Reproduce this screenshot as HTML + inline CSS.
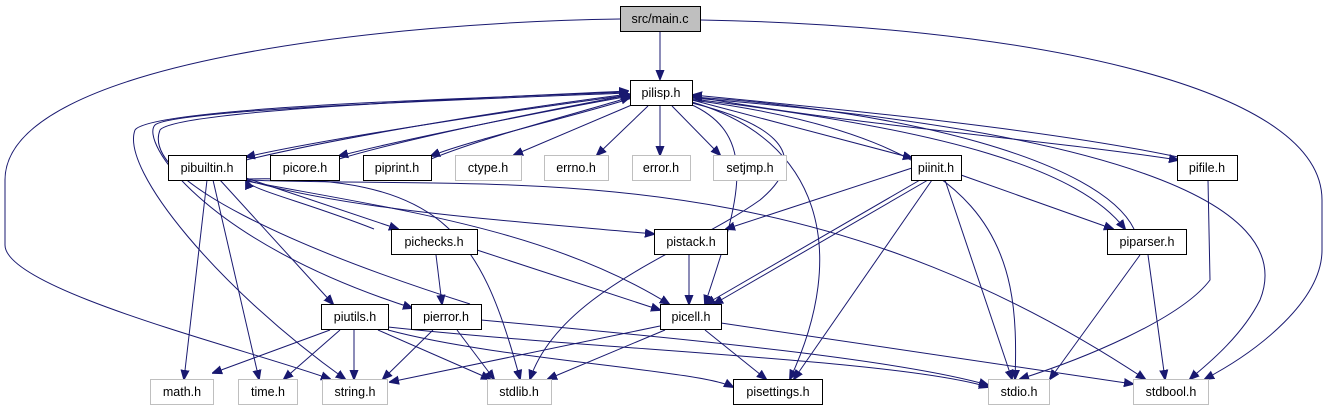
<!DOCTYPE html>
<html><head><meta charset="utf-8"><style>
html,body{margin:0;padding:0;background:#fff;}
svg{display:block;}
text{font-family:"Liberation Sans",Arial,sans-serif;font-size:12.5px;fill:#000;}
.n{fill:#fff;stroke:#000;stroke-width:1;}
.g{fill:#fff;stroke:#bfbfbf;stroke-width:1;}
.e{fill:none;stroke:#191970;stroke-width:1;marker-end:url(#a);}
</style></head><body>
<svg width="1329" height="411" viewBox="0 0 1329 411" xmlns="http://www.w3.org/2000/svg">
<defs><marker id="a" viewBox="0 0 10 10" refX="9" refY="5" markerWidth="10" markerHeight="10" markerUnits="userSpaceOnUse" orient="auto"><path d="M0,1 L10,5 L0,9 z" fill="#191970" stroke="#191970"/></marker></defs>

<path class="e" d="M660,32 L660,79"/>
<path class="e" d="M620,19 C400,22 5,60 5,180 L5,245 C5,290 250,350 330,379"/>
<path class="e" d="M701,20 C1000,25 1322,80 1322,200 L1322,250 C1322,300 1260,350 1205,379"/>

<path class="e" d="M630,95 C500,112 320,140 246,157"/>
<path class="e" d="M246,160 C350,135 520,108 629,94"/>
<path class="e" d="M630,96 C540,112 400,140 339,156"/>
<path class="e" d="M339,159 C420,135 560,108 629,95"/>
<path class="e" d="M632,98 C580,115 470,140 431,156"/>
<path class="e" d="M431,159 C490,135 590,110 630,97"/>
<path class="e" d="M634,104 L514,155"/>
<path class="e" d="M648,106 L597,155"/>
<path class="e" d="M660,106 L660,155"/>
<path class="e" d="M672,106 L720,155"/>
<path class="e" d="M692,100 L912,158"/>
<path class="e" d="M692,96 C850,125 1050,140 1178,160"/>
<path class="e" d="M1178,157 C1050,130 850,110 693,95"/>
<path class="e" d="M692,99 C950,130 1080,170 1125,229"/>
<path class="e" d="M1134,229 C1100,160 900,110 693,97"/>
<path class="e" d="M628,93 C450,100 170,110 155,125 C140,140 200,240 412,308"/>
<path class="e" d="M470,304 C300,250 140,180 160,130 C175,110 480,98 628,91"/>
<path class="e" d="M628,92 C450,99 150,108 135,130 C120,170 220,290 345,379"/>
<path class="e" d="M692,103 C760,120 820,150 760,200 C690,250 560,290 530,379"/>
<path class="e" d="M690,104 C760,135 740,200 705,304"/>
<path class="e" d="M692,102 C820,140 850,250 790,379"/>
<path class="e" d="M692,100 C1000,140 1020,250 1015,379"/>
<path class="e" d="M692,98 C1100,130 1300,200 1260,300 C1240,340 1200,370 1190,379"/>

<path class="e" d="M207,180 L184,379"/>
<path class="e" d="M213,180 L259,379"/>
<path class="e" d="M220,180 L333,304"/>
<path class="e" d="M246,178 L398,229"/>
<path class="e" d="M246,180 C350,210 500,220 654,234"/>
<path class="e" d="M246,181 C400,210 550,230 669,304"/>
<path class="e" d="M246,179 C440,175 480,230 520,379"/>
<path class="e" d="M246,180 C500,190 800,150 1145,379"/>
<path class="e" d="M374,229 C300,200 250,190 246,180"/>

<path class="e" d="M436,255 L442,304"/>
<path class="e" d="M477,250 L660,310"/>
<path class="e" d="M689,255 L689,304"/>

<path class="e" d="M912,168 L726,229"/>
<path class="e" d="M920,180 L706,304"/>
<path class="e" d="M928,180 L714,304"/>
<path class="e" d="M932,180 L794,379"/>
<path class="e" d="M945,180 L1012,379"/>
<path class="e" d="M961,175 L1113,229"/>
<path class="e" d="M1208,180 L1210,280 C1180,320 1080,360 1020,379"/>
<path class="e" d="M1140,255 L1050,379"/>
<path class="e" d="M1148,255 L1165,379"/>

<path class="e" d="M330,330 L213,373"/>
<path class="e" d="M340,330 L284,379"/>
<path class="e" d="M354,330 L354,379"/>
<path class="e" d="M378,330 L490,379"/>
<path class="e" d="M388,330 C500,360 700,370 733,387"/>
<path class="e" d="M388,327 C600,350 900,360 988,387"/>
<path class="e" d="M433,330 L383,379"/>
<path class="e" d="M457,330 L494,379"/>
<path class="e" d="M481,320 C700,340 900,360 988,385"/>
<path class="e" d="M660,326 L390,382"/>
<path class="e" d="M665,330 L548,379"/>
<path class="e" d="M705,330 L766,379"/>
<path class="e" d="M721,323 L1133,384"/>

<rect x="620.5" y="6.5" width="80" height="25" fill="#bfbfbf" stroke="#000"/><text x="660" y="23" text-anchor="middle">src/main.c</text>
<rect class="n" x="630.5" y="80.5" width="62" height="25"/><text x="661" y="97" text-anchor="middle">pilisp.h</text>
<rect class="n" x="168.5" y="155.5" width="78" height="25"/><text x="207" y="172" text-anchor="middle">pibuiltin.h</text>
<rect class="n" x="270.5" y="155.5" width="69" height="25"/><text x="305" y="172" text-anchor="middle">picore.h</text>
<rect class="n" x="363.5" y="155.5" width="68" height="25"/><text x="397" y="172" text-anchor="middle">piprint.h</text>
<rect class="g" x="455.5" y="155.5" width="66" height="25"/><text x="488" y="172" text-anchor="middle">ctype.h</text>
<rect class="g" x="544.5" y="155.5" width="64" height="25"/><text x="576" y="172" text-anchor="middle">errno.h</text>
<rect class="g" x="632.5" y="155.5" width="58" height="25"/><text x="661" y="172" text-anchor="middle">error.h</text>
<rect class="g" x="713.5" y="155.5" width="73" height="25"/><text x="750" y="172" text-anchor="middle">setjmp.h</text>
<rect class="n" x="911.5" y="155.5" width="50" height="25"/><text x="936" y="172" text-anchor="middle">piinit.h</text>
<rect class="n" x="1177.5" y="155.5" width="60" height="25"/><text x="1207" y="172" text-anchor="middle">pifile.h</text>
<rect class="n" x="391.5" y="229.5" width="86" height="25"/><text x="434" y="246" text-anchor="middle">pichecks.h</text>
<rect class="n" x="654.5" y="229.5" width="73" height="25"/><text x="691" y="246" text-anchor="middle">pistack.h</text>
<rect class="n" x="1107.5" y="229.5" width="79" height="25"/><text x="1147" y="246" text-anchor="middle">piparser.h</text>
<rect class="n" x="321.5" y="304.5" width="67" height="25"/><text x="355" y="321" text-anchor="middle">piutils.h</text>
<rect class="n" x="411.5" y="304.5" width="70" height="25"/><text x="446" y="321" text-anchor="middle">pierror.h</text>
<rect class="n" x="660.5" y="304.5" width="61" height="25"/><text x="691" y="321" text-anchor="middle">picell.h</text>
<rect class="g" x="150.5" y="379.5" width="63" height="25"/><text x="182" y="396" text-anchor="middle">math.h</text>
<rect class="g" x="238.5" y="379.5" width="59" height="25"/><text x="268" y="396" text-anchor="middle">time.h</text>
<rect class="g" x="322.5" y="379.5" width="65" height="25"/><text x="355" y="396" text-anchor="middle">string.h</text>
<rect class="g" x="487.5" y="379.5" width="64" height="25"/><text x="519" y="396" text-anchor="middle">stdlib.h</text>
<rect class="n" x="733.5" y="379.5" width="89" height="25"/><text x="778" y="396" text-anchor="middle">pisettings.h</text>
<rect class="g" x="988.5" y="379.5" width="61" height="25"/><text x="1019" y="396" text-anchor="middle">stdio.h</text>
<rect class="g" x="1133.5" y="379.5" width="75" height="25"/><text x="1171" y="396" text-anchor="middle">stdbool.h</text>
</svg>
</body></html>
